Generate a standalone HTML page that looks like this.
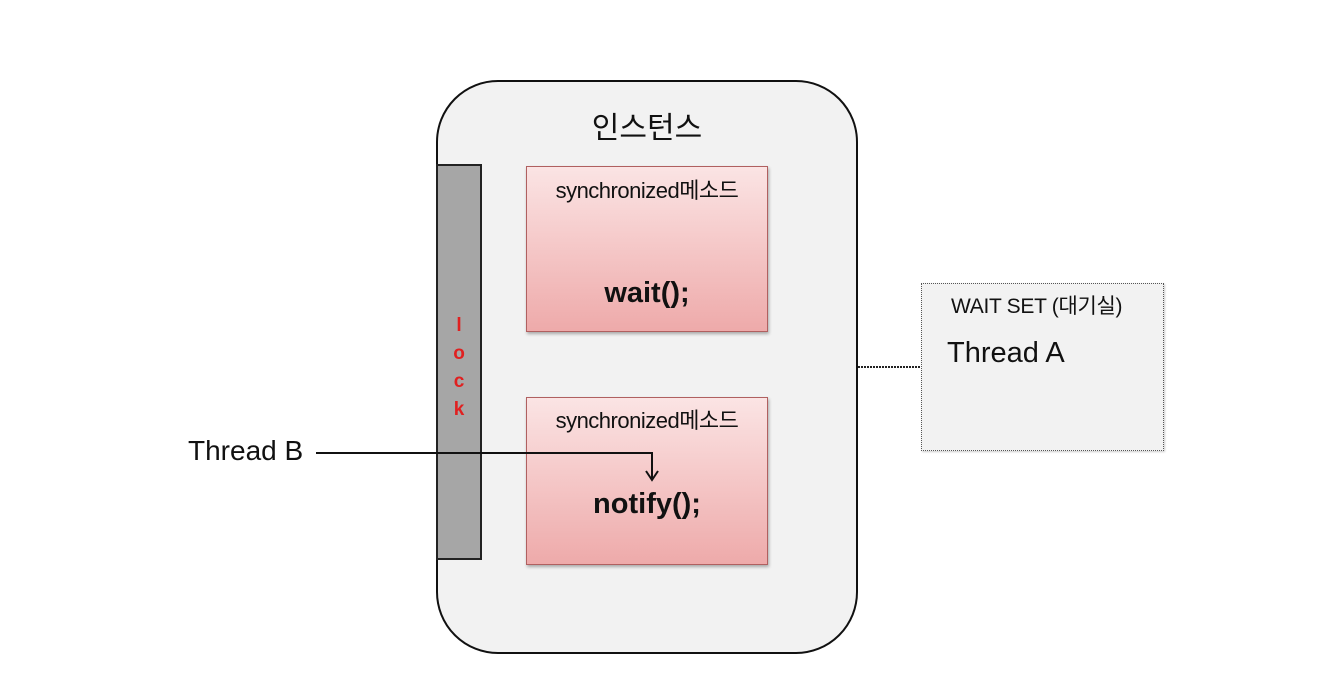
<!DOCTYPE html>
<html><head><meta charset="utf-8"><style>
body{margin:0;width:1342px;height:698px;background:#fff;position:relative;overflow:hidden;font-family:"Liberation Sans","Noto Sans CJK KR",sans-serif;color:#111}
.a{position:absolute;box-sizing:border-box}
.m{background:linear-gradient(#fbe4e4,#eeaaaa);border:1px solid #b06060;box-shadow:1px 2px 3px rgba(0,0,0,.3)}
.t{position:absolute;white-space:nowrap}
</style></head><body>
<div class="a" style="left:436px;top:80px;width:422px;height:574px;border:2px solid #111;border-radius:62px;background:#f2f2f2"></div>
<div class="t" style="left:0;width:1294px;text-align:center;top:103px;font-size:30px">인스턴스</div>
<div class="a" style="left:436px;top:164px;width:46px;height:396px;background:#a6a6a6;border:2px solid #222"></div>
<div class="t" style="left:452px;top:312px;width:14px;text-align:center;color:#e02020;font-weight:bold;font-size:19px;line-height:28px">l<br>o<br>c<br>k</div>
<div class="a m" style="left:526px;top:166px;width:242px;height:166px"></div>
<div class="t" style="left:526px;width:242px;text-align:center;top:173px;font-size:22px;letter-spacing:-0.5px">synchronized메소드</div>
<div class="t" style="left:526px;width:242px;text-align:center;top:277px;font-size:29px;font-weight:bold">wait();</div>
<div class="a m" style="left:526px;top:397px;width:242px;height:168px"></div>
<div class="t" style="left:526px;width:242px;text-align:center;top:403px;font-size:22px;letter-spacing:-0.5px">synchronized메소드</div>
<div class="t" style="left:526px;width:242px;text-align:center;top:488px;font-size:29px;font-weight:bold">notify();</div>
<div class="a" style="left:921px;top:283px;width:243px;height:168px;border:1.5px dotted #555;background:#f2f2f2;box-shadow:1px 1px 2px rgba(0,0,0,.2)"></div>
<div class="t" style="left:951px;top:290px;font-size:21px;letter-spacing:-0.3px">WAIT SET (대기실)</div>
<div class="t" style="left:947px;top:337px;font-size:29px">Thread A</div>
<div class="t" style="left:188px;top:435px;font-size:28px">Thread B</div>
<svg class="a" style="left:0;top:0" width="1342" height="698">
<line x1="858" y1="367" x2="921" y2="367" stroke="#222" stroke-width="2" stroke-dasharray="2,1"/>
<path d="M316 453 H652 V478" fill="none" stroke="#111" stroke-width="2"/>
<path d="M646 471 L652 480 L658 471" fill="none" stroke="#111" stroke-width="2"/>
</svg>
</body></html>
